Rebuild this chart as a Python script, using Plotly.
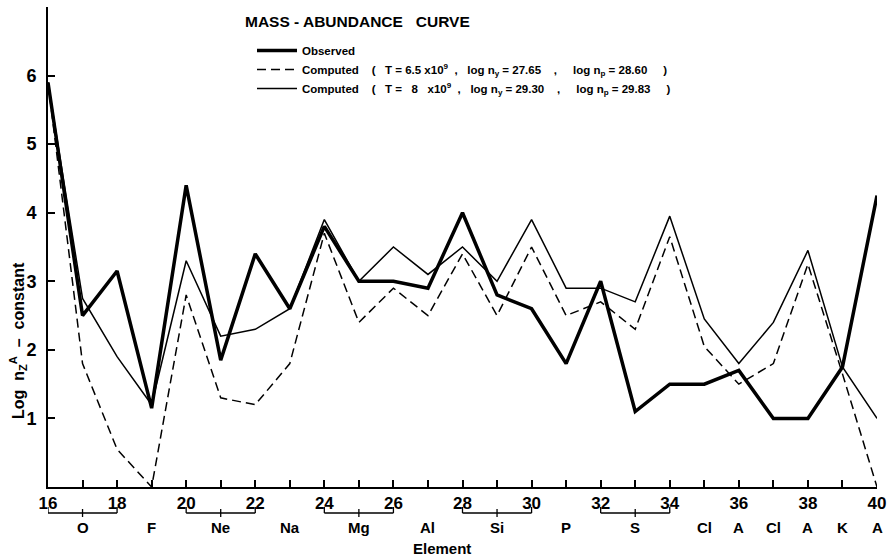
import plotly.graph_objects as go

# ---------------- data ----------------
mass_numbers = list(range(16, 41))

observed = [5.9, 2.5, 3.15, 1.15, 4.4, 1.85, 3.4, 2.6, 3.8, 3.0, 3.0, 2.9, 4.0,
            2.8, 2.6, 1.8, 3.0, 1.1, 1.5, 1.5, 1.7, 1.0, 1.0, 1.75, 4.25]

computed_t65 = [5.9, 1.8, 0.55, 0.0, 2.8, 1.3, 1.2, 1.8, 3.7, 2.4, 2.9, 2.5, 3.4,
                2.5, 3.5, 2.5, 2.7, 2.3, 3.65, 2.05, 1.5, 1.8, 3.25, 1.65, 0.0]

computed_t8 = [5.9, 2.75, 1.9, 1.2, 3.3, 2.2, 2.3, 2.6, 3.9, 3.0, 3.5, 3.1, 3.5,
               3.0, 3.9, 2.9, 2.9, 2.7, 3.95, 2.45, 1.8, 2.4, 3.45, 1.75, 1.0]

x_tick_labels = ["16", "", "18", "", "20", "", "22", "", "24", "", "26", "", "28",
                 "", "30", "", "32", "", "34", "", "36", "", "38", "", "40"]
y_ticks = [1, 2, 3, 4, 5, 6]

element_labels = ["O", "F", "Ne", "Na", "Mg", "Al", "Si", "P", "S", "Cl", "A", "Cl", "A", "K", "A"]
element_positions = [17, 19, 21, 23, 25, 27, 29, 31, 33, 35, 36, 37, 38, 39, 40]

# isotope groups drawn with brackets: (start, end)
bracket_groups = [(16, 18), (20, 22), (24, 26), (28, 30), (32, 34)]

S = "\u00a0"
series_names = [
    "Observed",
    f"Computed{S*4}({S*3}T{S}={S}6.5{S}x10<sup>9</sup>{S*2},{S*3}log{S}n<sub>y</sub>{S}={S}27.65{S*4},{S*5}log{S}n<sub>p</sub>{S}={S}28.60{S*5})",
    f"Computed{S*4}({S*3}T{S}={S*3}8{S*3}x10<sup>9</sup>{S*2},{S*3}log{S}n<sub>y</sub>{S}={S}29.30{S*4},{S*5}log{S}n<sub>p</sub>{S}={S}29.83{S*5})",
]

# ---------------- figure ----------------
FONT = "Liberation Sans"
fig = go.Figure()

fig.add_trace(go.Scatter(x=mass_numbers, y=observed, mode="lines", name=series_names[0],
                         line=dict(color="black", width=3.5)))
fig.add_trace(go.Scatter(x=mass_numbers, y=computed_t65, mode="lines", name=series_names[1],
                         line=dict(color="black", width=1.5, dash="9px,5px")))
fig.add_trace(go.Scatter(x=mass_numbers, y=computed_t8, mode="lines", name=series_names[2],
                         line=dict(color="black", width=1.5)))

plot_top, plot_bottom = 7, 487
plot_h = plot_bottom - plot_top


def py(pix):
    return (plot_bottom - pix) / plot_h


shapes = []
for a, b in bracket_groups:
    mid = (a + b) / 2
    shapes.append(dict(type="line", xref="x", yref="paper", x0=a, x1=b, y0=py(513), y1=py(513),
                       line=dict(color="black", width=1.3)))
    for xe in (a, b):
        shapes.append(dict(type="line", xref="x", yref="paper", x0=xe, x1=xe, y0=py(513), y1=py(507),
                           line=dict(color="black", width=1.3)))
    shapes.append(dict(type="line", xref="x", yref="paper", x0=mid, x1=mid, y0=py(509), y1=py(517),
                       line=dict(color="black", width=1.3)))

annotations = []
for lab, xp in zip(element_labels, element_positions):
    annotations.append(dict(x=xp, y=py(527), xref="x", yref="paper", text=lab, showarrow=False,
                            font=dict(family=FONT, size=15, color="black", weight="bold"),
                            xanchor="center", yanchor="middle"))
annotations.append(dict(x=27.4, y=py(548), xref="x", yref="paper", text="Element", showarrow=False,
                        font=dict(family=FONT, size=15, color="black", weight="bold"),
                        xanchor="center", yanchor="middle"))
annotations.append(dict(x=-30 / 829, y=py(341), xref="paper", yref="paper",
                        text=f"Log{S}{S}n<sub>Z</sub><sup>A</sup>{S}{S}\u2013{S}{S}constant", showarrow=False,
                        textangle=-90, font=dict(family=FONT, size=16, color="black", weight="bold"),
                        xanchor="center", yanchor="middle"))

fig.update_layout(
    width=892, height=558,
    margin=dict(l=48, r=15, t=7, b=71),
    plot_bgcolor="white", paper_bgcolor="white",
    font=dict(family=FONT, color="black"),
    title=dict(text=f"MASS - ABUNDANCE{S*3}CURVE", x=(245 - 48) / 829, xref="paper", xanchor="left",
               y=1 - 22 / 558, yanchor="middle",
               font=dict(family=FONT, size=15.5, color="black", weight="bold")),
    showlegend=True,
    legend=dict(x=(252 - 48) / 829, y=py(36), xanchor="left", yanchor="top",
                bgcolor="rgba(0,0,0,0)", font=dict(family=FONT, size=11.5, color="black", weight="bold"),
                tracegroupgap=0, itemwidth=40),
    shapes=shapes,
    annotations=annotations,
)

fig.update_xaxes(range=[16, 40], tickvals=mass_numbers, ticktext=x_tick_labels,
                 ticks="inside", ticklen=7, tickwidth=1.5, tickcolor="black",
                 showline=True, linecolor="black", linewidth=2, showgrid=False, zeroline=False,
                 tickfont=dict(family=FONT, size=17, color="black", weight="bold"))
fig.update_yaxes(range=[0, 7], tickvals=y_ticks + [7], ticktext=[str(v) for v in y_ticks] + [""],
                 ticks="inside", ticklen=7, tickwidth=1.5, tickcolor="black",
                 showline=True, linecolor="black", linewidth=2, showgrid=False, zeroline=False,
                 ticklabelstandoff=6,
                 tickfont=dict(family=FONT, size=18, color="black", weight="bold"))

fig.write_html("out.html", config={"displayModeBar": False},
               post_script="document.body.style.margin='0';document.body.style.overflow='hidden';")
